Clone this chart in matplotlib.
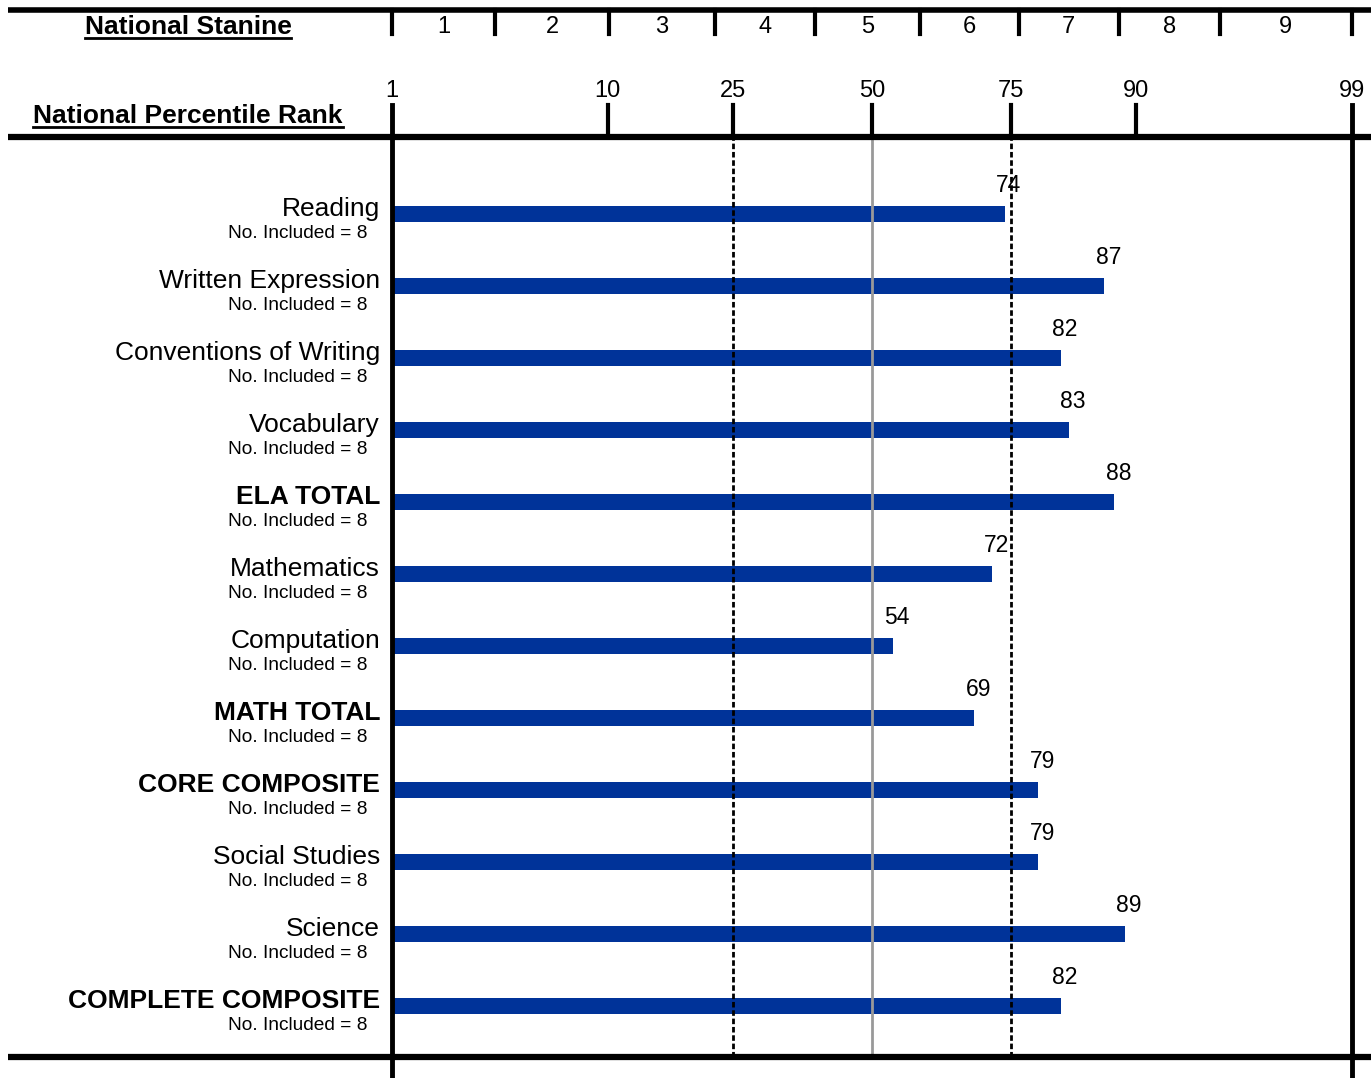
import numpy as np
import matplotlib
matplotlib.use("Agg")
from matplotlib import pyplot as plt
from matplotlib.lines import Line2D
from statistics import NormalDist

plt.rcParams['font.family'] = ['Liberation Sans', 'DejaVu Sans']

# datos
subjects = ["Reading", "Written Expression", "Conventions of Writing", "Vocabulary",
            "ELA TOTAL", "Mathematics", "Computation", "MATH TOTAL",
            "CORE COMPOSITE", "Social Studies", "Science", "COMPLETE COMPOSITE"]
bold_rows = ["ELA TOTAL", "MATH TOTAL", "CORE COMPOSITE", "COMPLETE COMPOSITE"]
npr = [74, 87, 82, 83, 88, 72, 54, 69, 79, 79, 89, 82]
n_included = [8, 8, 8, 8, 8, 8, 8, 8, 8, 8, 8, 8]
pr_ticks = [1, 10, 25, 50, 75, 90, 99]
stanine_cuts = [1, 3.4, 10.1, 22.3, 39.1, 59.2, 76.2, 88.4, 95.4, 99]
stanine_labels = ["1", "2", "3", "4", "5", "6", "7", "8", "9"]

nd = NormalDist()
_ppf = np.vectorize(nd.inv_cdf, otypes=[float])
_cdf = np.vectorize(nd.cdf, otypes=[float])

def fwd(p):
    p = np.clip(np.asarray(p, dtype=float), 1e-6, 100 - 1e-6)
    return _ppf(p / 100.0)

def inv(z):
    return _cdf(np.asarray(z, dtype=float)) * 100.0

W, H = 1371, 1078
fig = plt.figure(figsize=(W / 100, H / 100), dpi=100)
top_px, bot_px, left_px, right_px = 137, 1057, 392, 1352
ax = fig.add_axes([left_px / W, 1 - bot_px / H, (right_px - left_px) / W, (bot_px - top_px) / H])
ax.set_xscale('function', functions=(fwd, inv))
ax.set_xlim(1, 99)
row_px = 72
n = len(subjects)
rows = np.arange(n)
ax.set_ylim(n - 1 + 51 / row_px, -77 / row_px)
ax.set_xticks([])
ax.set_yticks([])
for s in ax.spines.values():
    s.set_visible(False)

ax_h = bot_px - top_px
def fy(px_above):
    return 1 + px_above / ax_h

# barras (desde el percentil 1)
ax.barh(rows, np.array(npr) - 1, left=1, height=16 / row_px, color='#003399', zorder=2)

# lineas de referencia
ax.axvline(25, color='black', lw=2, ls=(0, (2, 1)), zorder=3)
ax.axvline(75, color='black', lw=2, ls=(0, (2, 1)), zorder=3)
ax.axvline(50, color='#999999', lw=2, zorder=3)

# ejes verticales izquierdo y derecho
for p in [1, 99]:
    ax.axvline(p, ymin=-21 / ax_h, ymax=fy(32), color='black', lw=3.5, clip_on=False, zorder=4)

# ticks percentil
for p in pr_ticks:
    if p not in (1, 99):
        ax.axvline(p, ymin=1, ymax=fy(32), color='black', lw=3, clip_on=False)
    ax.text(p, fy(46), str(p), transform=ax.get_xaxis_transform(), ha='center', va='center',
            fontsize=17)

# stanines
for p in stanine_cuts:
    ax.axvline(p, ymin=fy(103), ymax=fy(127), color='black', lw=3, clip_on=False)
for i, lab in enumerate(stanine_labels):
    zc = (fwd(stanine_cuts[i]) + fwd(stanine_cuts[i + 1])) / 2
    ax.text(float(inv(zc)), fy(110), lab, transform=ax.get_xaxis_transform(),
            ha='center', va='center', fontsize=17)

# lineas horizontales gruesas
for ypx, lw in [(10, 4), (137, 4.5), (1057, 4.5)]:
    fig.add_artist(Line2D([8 / W, 1], [1 - ypx / H, 1 - ypx / H], color='black', lw=lw,
                          transform=fig.transFigure, solid_capstyle='butt'))

# etiquetas de filas
ytr = ax.get_yaxis_transform()
for i, name in enumerate(subjects):
    ax.text(-12 / 960, i - 5 / row_px, name, transform=ytr, ha='right', va='center',
            fontsize=19, fontweight='bold' if name in bold_rows else 'normal')
    ax.text(-24 / 960, i + 20 / row_px, "No. Included = %d" % n_included[i], transform=ytr,
            ha='right', va='center', fontsize=13.8)
    ax.annotate(str(npr[i]), xy=(npr[i], i - 28 / row_px), xytext=(4, 0),
                textcoords='offset pixels', ha='center', va='center', fontsize=16.5)

# titulos de cabecera subrayados
t1 = fig.text(188 / W, 1 - 27 / H, "National Stanine", ha='center', va='center',
              fontsize=19, fontweight='bold')
t2 = fig.text(188 / W, 1 - 116 / H, "National Percentile Rank", ha='center', va='center',
              fontsize=19, fontweight='bold')
fig.canvas.draw()
r = fig.canvas.get_renderer()
for t in [t1, t2]:
    bb = t.get_window_extent(r)
    yl = bb.y0 + 1
    fig.add_artist(Line2D([bb.x0 / W, bb.x1 / W], [yl / H, yl / H], color='black', lw=2,
                          transform=fig.transFigure))

fig.savefig("out.png", dpi=100)
